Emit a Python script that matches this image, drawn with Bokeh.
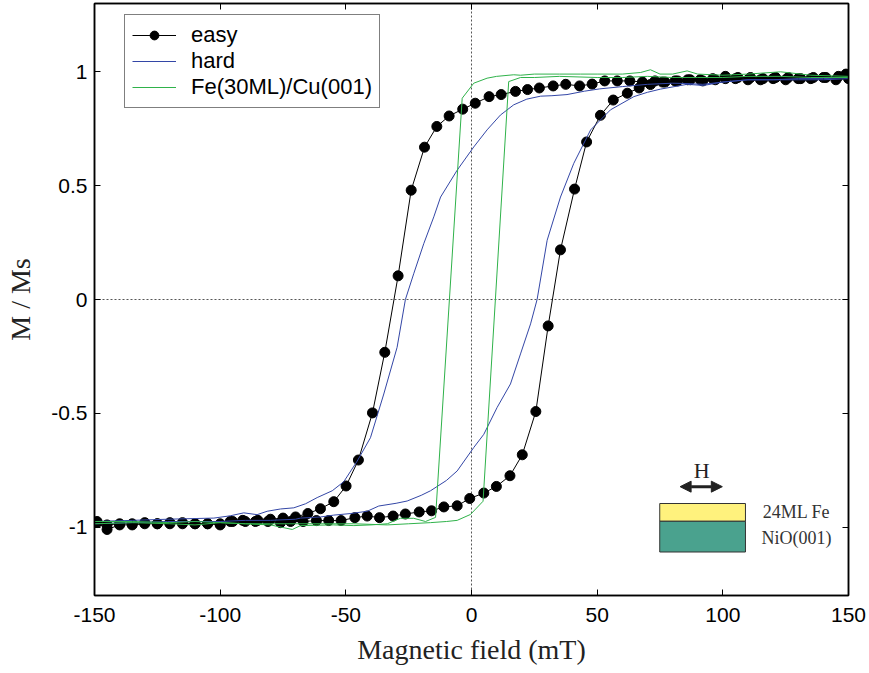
from bokeh.plotting import figure
from bokeh.models import (Range1d, FixedTicker, LinearAxis, Span, Legend, LegendItem,
                          Label, Arrow, NormalHead, BoxAnnotation, CustomJSTickFormatter)
from bokeh.embed import file_html
from bokeh.resources import INLINE

# ---------------- data ----------------
x_ticks = [-150, -100, -50, 0, 50, 100, 150]
y_ticks = [-1, -0.5, 0, 0.5, 1]

# easy axis loop: descending branch (+150 -> -150)
easy_down_x = [149, 145, 140, 135, 130, 125, 120, 115, 110, 105, 101, 97, 92, 87, 82, 77, 73,
               68, 63, 58, 53, 48, 43, 37.5, 32.5, 27, 22.3, 17.5, 11.8, 7, 1.5, -3.5, -8.9,
               -13.8, -18.7, -24, -29.2, -34.5, -39.4, -45, -49.9, -54.8, -60.1, -65.1, -70,
               -75, -80, -85, -90, -95, -100, -105, -110, -115, -120, -125, -130, -135, -140,
               -145, -149]
easy_down_y = [0.99, 0.965, 0.975, 0.97, 0.97, 0.965, 0.97, 0.965, 0.965, 0.97, 0.98, 0.965,
               0.96, 0.965, 0.96, 0.955, 0.96, 0.955, 0.96, 0.96, 0.96, 0.946, 0.938, 0.945,
               0.938, 0.929, 0.922, 0.914, 0.9, 0.891, 0.862, 0.836, 0.806, 0.76, 0.669, 0.48,
               0.104, -0.232, -0.498, -0.705, -0.819, -0.888, -0.919, -0.94, -0.955, -0.96,
               -0.965, -0.97, -0.975, -0.975, -0.985, -0.985, -0.985, -0.98, -0.985, -0.985,
               -0.985, -0.99, -0.99, -1.01, -0.98]
# easy axis loop: ascending branch (-150 -> +150)
easy_up_x = [-149, -145, -140, -135, -130, -125, -120, -115, -110, -105, -100, -96, -91, -86,
             -81, -76, -72, -67, -61.7, -56.8, -51.9, -46.4, -41.5, -36.6, -31.2, -26.3, -20.8,
             -15.9, -11, -5.7, -0.7, 4.9, 9.9, 15.3, 20.2, 25.6, 30.5, 35.4, 41, 45.8, 51.3,
             56.4, 62, 66.7, 71.2, 76, 81, 86, 91, 96, 101, 106, 111, 116, 121, 126, 131, 136,
             141, 146, 150]
easy_up_y = [-0.975, -0.99, -0.985, -0.985, -0.98, -0.985, -0.98, -0.985, -0.985, -0.985,
             -0.99, -0.975, -0.97, -0.975, -0.975, -0.98, -0.975, -0.975, -0.971, -0.971,
             -0.971, -0.958, -0.951, -0.958, -0.951, -0.942, -0.933, -0.928, -0.911, -0.906,
             -0.874, -0.85, -0.821, -0.774, -0.682, -0.492, -0.116, 0.218, 0.485, 0.692,
             0.809, 0.876, 0.906, 0.929, 0.944, 0.955, 0.96, 0.965, 0.965, 0.97, 0.97, 0.975,
             0.975, 0.97, 0.975, 0.975, 0.97, 0.975, 0.975, 0.98, 0.97]

# hard axis loop
hard_down_x = [150, 140, 130, 120, 110, 100, 92, 87, 80, 70, 60, 51, 45, 38, 32, 27.5, 22,
               16.8, 11.5, 6.2, 0.9, -5.7, -12.3, -15, -19, -23, -26.3, -29.6, -34.9, -40.2,
               -45.5, -50.8, -55.4, -61.4, -66, -70.7, -76, -81.3, -85.3, -90.6, -96, -102.5,
               -110, -121, -135, -150]
hard_down_y = [0.97, 0.965, 0.965, 0.965, 0.965, 0.955, 0.945, 0.948, 0.95, 0.945, 0.935,
               0.925, 0.915, 0.9, 0.895, 0.893, 0.88, 0.855, 0.81, 0.745, 0.67, 0.568, 0.45,
               0.363, 0.245, 0.113, 0.0, -0.21, -0.415, -0.607, -0.71, -0.8, -0.84, -0.87,
               -0.897, -0.915, -0.92, -0.93, -0.945, -0.937, -0.95, -0.96, -0.962, -0.965,
               -0.97, -0.975]
hard_up_x = [-150, -135, -121, -110, -100, -90, -80, -70, -68, -60, -54.8, -48, -41.5, -36.9,
             -30, -25.6, -20, -16.3, -10, -5.7, 0.9, 4.9, 10.2, 15.5, 19.5, 23.5, 26.1, 30.1,
             35.4, 40.7, 47.4, 55.3, 64.6, 70, 75.2, 85.8, 92.3, 100, 110, 120, 130, 140, 150]
hard_up_y = [-0.985, -0.98, -0.975, -0.975, -0.975, -0.97, -0.97, -0.965, -0.96, -0.955,
             -0.947, -0.94, -0.93, -0.907, -0.895, -0.885, -0.86, -0.84, -0.795, -0.753,
             -0.65, -0.592, -0.474, -0.371, -0.239, -0.107, 0.0, 0.26, 0.45, 0.598, 0.745,
             0.833, 0.891, 0.91, 0.924, 0.945, 0.94, 0.955, 0.965, 0.965, 0.97, 0.97, 0.975]

# Fe(30ML)/Cu(001) loop
fe_down_x = [150, 135, 123, 110, 100, 90, 85.8, 80, 75, 71.2, 67.3, 60, 50, 43.4, 35, 25,
             19.5, 16.8, 10, 6.2, 0.9, -3.7, -14.3, -18.3, -23, -28.3, -33.5, -40, -46.8,
             -55, -68, -71.3, -80, -90, -100, -110, -120, -135, -150]
fe_down_y = [0.98, 0.985, 1.0, 0.99, 0.985, 0.99, 1.004, 0.99, 0.99, 1.009, 0.997, 0.99,
             0.99, 0.99, 0.99, 0.99, 0.985, 0.987, 0.98, 0.972, 0.95, 0.884, -0.957, -0.975,
             -0.961, -0.961, -0.985, -0.99, -0.993, -0.99, -0.993, -1.01, -0.99, -0.985,
             -0.98, -0.975, -0.98, -0.975, -0.975]
fe_up_x = [-150, -135, -120, -110, -100, -90, -80, -70, -60, -46.8, -33.5, -25, -16.3, -10,
           -5.7, -0.4, 4.6, 14.8, 19.5, 25, 35, 50, 60, 70, 80, 90, 100, 110, 123, 135, 150]
fe_up_y = [-0.985, -0.98, -0.985, -0.99, -0.98, -0.985, -0.985, -0.985, -0.985, -0.985,
           -0.99, -0.985, -0.98, -0.975, -0.97, -0.944, -0.886, 0.957, 0.975, 0.975, 0.98,
           0.975, 0.975, 0.98, 0.975, 0.975, 0.975, 0.98, 0.98, 0.975, 0.975]

# ---------------- styles ----------------
C_EASY = "black"
C_HARD = "#3346a6"
C_FE = "#2fb24a"
SANS = "Liberation Sans"
SERIF = "Liberation Serif"

p = figure(width=869, height=673, output_backend="svg", toolbar_location=None,
           x_range=Range1d(-150, 150), y_range=Range1d(-1.3, 1.3),
           min_border_left=94, min_border_right=21, min_border_top=3, min_border_bottom=78,
           background_fill_color="white", border_fill_color="white")
p.grid.visible = False
p.outline_line_color = "black"
p.outline_line_width = 1.5

fmt = CustomJSTickFormatter(code="return tick.toString();")
for ax, ticks in ((p.xaxis[0], x_ticks), (p.yaxis[0], y_ticks)):
    ax.ticker = FixedTicker(ticks=ticks)
    ax.formatter = fmt
    ax.major_tick_in = 6
    ax.major_tick_out = 0
    ax.minor_tick_line_color = None
    ax.axis_line_width = 1.5
    ax.major_tick_line_width = 1
    ax.major_label_text_font = SANS
    ax.major_label_text_font_size = "21px"
    ax.major_label_text_color = "black"
    ax.axis_label_text_font = SERIF
    ax.axis_label_text_font_size = "28px"
    ax.axis_label_text_font_style = "normal"
    ax.axis_label_text_color = "#222222"

p.xaxis[0].axis_label = "Magnetic field (mT)"
p.xaxis[0].major_label_standoff = 12
p.xaxis[0].axis_label_standoff = 9
p.yaxis[0].axis_label = "M / Ms"
p.yaxis[0].major_label_standoff = 7
p.yaxis[0].axis_label_standoff = 12

for loc, ticks in (("right", y_ticks), ("above", x_ticks)):
    ax = LinearAxis(ticker=FixedTicker(ticks=ticks),
                    formatter=CustomJSTickFormatter(code="return '';"),
                    major_label_text_font_size="0px", major_label_standoff=0,
                    major_tick_in=6, major_tick_out=0, minor_tick_line_color=None,
                    axis_line_width=1.5)
    p.add_layout(ax, loc)

# zero lines
p.add_layout(Span(location=0, dimension="height", line_color="#555555", line_width=1,
                  line_dash="2 2", level="underlay"))
p.add_layout(Span(location=0, dimension="width", line_color="#555555", line_width=1,
                  line_dash="2 2", level="underlay"))

# easy
l1 = p.line(easy_down_x, easy_down_y, line_color=C_EASY, line_width=1)
l2 = p.line(easy_up_x, easy_up_y, line_color=C_EASY, line_width=1)
s1 = p.scatter(easy_down_x, easy_down_y, size=10, fill_color=C_EASY, line_color=C_EASY)
s2 = p.scatter(easy_up_x, easy_up_y, size=10, fill_color=C_EASY, line_color=C_EASY)
# hard
h1 = p.line(hard_down_x, hard_down_y, line_color=C_HARD, line_width=1)
h2 = p.line(hard_up_x, hard_up_y, line_color=C_HARD, line_width=1)
# Fe/Cu
f1 = p.line(fe_down_x, fe_down_y, line_color=C_FE, line_width=1)
f2 = p.line(fe_up_x, fe_up_y, line_color=C_FE, line_width=1)

legend = Legend(items=[LegendItem(label="easy", renderers=[l1, s1]),
                       LegendItem(label="hard", renderers=[h1]),
                       LegendItem(label="Fe(30ML)/Cu(001)", renderers=[f1])],
                location=(30, 487), padding=7, spacing=0, label_height=22, glyph_height=22,
                glyph_width=44, label_standoff=15, label_text_font=SANS,
                label_text_font_size="22px", label_text_color="black",
                border_line_color="black", border_line_width=1.5, margin=0,
                background_fill_color="white", background_fill_alpha=1)
p.add_layout(legend)

# inset sketch (24ML Fe on NiO(001))
p.add_layout(BoxAnnotation(left=74.9, right=109, bottom=-0.974, top=-0.896,
                           fill_color="#fff27d", fill_alpha=1, line_color="#333333",
                           line_width=1, line_alpha=1))
p.add_layout(BoxAnnotation(left=74.9, right=109, bottom=-1.109, top=-0.974,
                           fill_color="#4aa28e", fill_alpha=1, line_color="#333333",
                           line_width=1, line_alpha=1))
p.add_layout(Arrow(x_start=83, y_start=-0.822, x_end=99.8, y_end=-0.822, line_width=3,
                   line_color="#222222",
                   start=NormalHead(size=11, fill_color="#222222", line_color="#222222"),
                   end=NormalHead(size=11, fill_color="#222222", line_color="#222222")))
p.add_layout(Label(x=91.6, y=-0.753, text="H", text_align="center", text_baseline="middle",
                   text_font=SERIF, text_font_size="22px", text_color="#222222"))
p.add_layout(Label(x=129.3, y=-0.934, text="24ML Fe", text_align="center",
                   text_baseline="middle", text_font=SERIF, text_font_size="18px",
                   text_color="#333333"))
p.add_layout(Label(x=129.3, y=-1.048, text="NiO(001)", text_align="center",
                   text_baseline="middle", text_font=SERIF, text_font_size="18px",
                   text_color="#333333"))

open("out.html", "w").write(file_html(p, INLINE))
